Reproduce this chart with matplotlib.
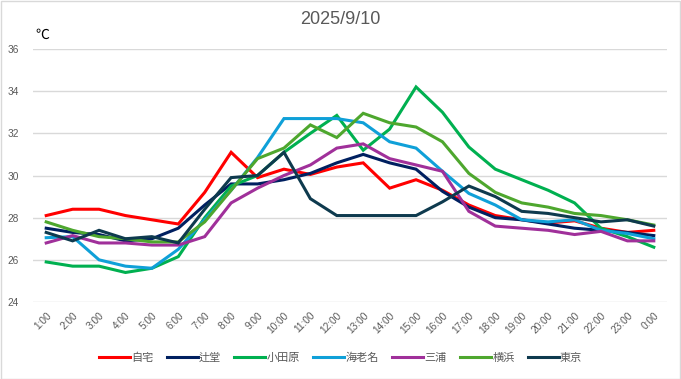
import matplotlib
matplotlib.use("Agg")
import matplotlib.pyplot as plt
from matplotlib.patches import Rectangle

plt.rcParams['font.family'] = ['Noto Sans CJK JP', 'DejaVu Sans']

hours = ['1:00', '2:00', '3:00', '4:00', '5:00', '6:00', '7:00', '8:00', '9:00', '10:00',
         '11:00', '12:00', '13:00', '14:00', '15:00', '16:00', '17:00', '18:00', '19:00',
         '20:00', '21:00', '22:00', '23:00', '0:00']

jitaku = [28.1, 28.4, 28.4, 28.1, 27.9, 27.7, 29.2, 31.1, 29.9, 30.3, 30.05, 30.4,
          30.6, 29.4, 29.8, 29.3, 28.6, 28.1, 27.9, 27.75, 27.85, 27.5, 27.3, 27.4]
tsujido = [27.5, 27.3, 27.2, 26.9, 27.0, 27.5, 28.6, 29.6, 29.6, 29.8, 30.1, 30.6,
           31.0, 30.6, 30.3, 29.25, 28.5, 28.0, 27.9, 27.7, 27.5, 27.4, 27.3, 27.15]
odawara = [25.9, 25.7, 25.7, 25.4, 25.6, 26.15, 28.0, 29.5, 30.0, 31.1, 32.0, 32.85,
           31.2, 32.2, 34.2, 33.0, 31.35, 30.3, 29.8, 29.3, 28.7, 27.5, 27.1, 26.6]
ebina = [27.05, 27.1, 26.0, 25.7, 25.6, 26.5, 27.9, 29.3, 30.85, 32.7, 32.7, 32.7,
         32.5, 31.6, 31.3, 30.2, 29.15, 28.6, 27.9, 27.8, 27.9, 27.4, 27.25, 27.0]
miura = [26.8, 27.15, 26.8, 26.8, 26.7, 26.7, 27.1, 28.7, 29.4, 30.0, 30.5, 31.3,
         31.5, 30.8, 30.5, 30.2, 28.3, 27.6, 27.5, 27.4, 27.2, 27.35, 26.9, 26.9]
yokohama = [27.8, 27.4, 27.1, 27.0, 26.85, 26.85, 27.8, 29.3, 30.8, 31.3, 32.4, 31.8,
            32.95, 32.5, 32.3, 31.6, 30.1, 29.2, 28.7, 28.5, 28.2, 28.1, 27.9, 27.65]
tokyo = [27.3, 26.9, 27.4, 27.0, 27.1, 26.8, 28.4, 29.9, 30.0, 31.1, 28.9, 28.1,
         28.1, 28.1, 28.1, 28.75, 29.5, 29.0, 28.3, 28.2, 28.0, 27.8, 27.9, 27.6]

names = ['自宅', '辻堂', '小田原', '海老名', '三浦', '横浜', '東京']
series = [jitaku, tsujido, odawara, ebina, miura, yokohama, tokyo]
colors = ['#FF0000', '#002060', '#00B050', '#0FA0D8', '#A0309A', '#4EA72E', '#0E3A4E']

fig = plt.figure(figsize=(6.81, 3.79), dpi=100)
ax = fig.add_axes([33 / 681, 77 / 379, 634 / 681, 253 / 379])

x = list(range(len(hours)))
for vals, name, col in zip(series, names, colors):
    ax.plot(x, vals, color=col, lw=2.2, label=name, solid_joinstyle='miter')

ax.set_xlim(-0.5, len(hours) - 0.5)
ax.set_ylim(24, 36)
ax.set_yticks(range(24, 37, 2))
ax.set_xticks(x)
ax.set_xticklabels(hours, rotation=45, ha='right', rotation_mode='anchor')
ax.tick_params(axis='both', length=0, labelsize=7.3, labelcolor='#595959')
ax.tick_params(axis='x', pad=6)
ax.tick_params(axis='y', pad=10)
for lbl in ax.get_xticklabels():
    lbl.set_family(['Liberation Sans', 'DejaVu Sans'])
for lbl in ax.get_yticklabels():
    lbl.set_family(['Liberation Sans', 'DejaVu Sans'])
ax.grid(axis='y', color='#D9D9D9', lw=1)
ax.set_axisbelow(True)
for s in ax.spines.values():
    s.set_visible(False)

fig.text(0.5, 1 - 20 / 379, '2025/9/10', ha='center', va='center', fontsize=13,
         color='#595959', family=['Liberation Sans', 'DejaVu Sans'])
fig.text(35 / 681, 1 - 35 / 379, '℃', ha='left', va='center', fontsize=10, color='black')

fig.legend(loc='center', bbox_to_anchor=(0.5, 1 - 358 / 379), ncol=7, frameon=False,
           fontsize=8, handlelength=2.8, handletextpad=0.1, columnspacing=1.2,
           labelcolor='#595959')

fig.patches.append(Rectangle((0.001, 0.001), 0.997, 0.997, transform=fig.transFigure,
                             fill=False, edgecolor='#D9D9D9', lw=1))

fig.savefig('out.png', dpi=100)
